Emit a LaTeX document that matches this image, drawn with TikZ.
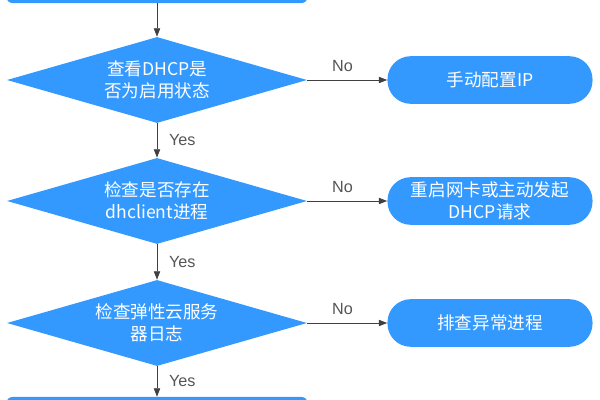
\documentclass[tikz,border=0pt]{standalone}
\usepackage{fontspec}
\setmainfont{Liberation Sans}
\newfontfamily\cjk{Noto Sans CJK SC}
\usetikzlibrary{shapes.geometric,arrows.meta}
\definecolor{hwblue}{HTML}{3399FF}
\definecolor{arrowgray}{HTML}{404040}
\definecolor{labelgray}{HTML}{555555}
\begin{document}
\begin{tikzpicture}[x=0.025cm,y=-0.025cm,
  decision/.style={diamond, aspect=3.5, fill=hwblue, text=white,
    font=\cjk\fontsize{12.5}{15.8}\selectfont, align=center,
    minimum width=7.5cm, minimum height=2.15cm, inner sep=0pt},
  terminal/.style={rectangle, rounded corners=0.58cm, fill=hwblue, text=white,
    font=\cjk\fontsize{12.5}{15.8}\selectfont, align=center,
    minimum width=5.125cm, minimum height=1.19cm, inner sep=0pt},
  process/.style={rectangle, rounded corners=0.15cm, fill=hwblue,
    minimum width=7.525cm, minimum height=0.75cm, inner sep=0pt},
  flow/.style={draw=arrowgray, line width=0.6pt, -{Triangle[length=6pt,width=4.5pt]}},
  lbl/.style={text=labelgray, font=\fontsize{11.5}{13}\selectfont}]
\useasboundingbox (0,0) rectangle (600,400);

\node[process] (top) at (157,-12) {};
\node[decision] (d1) at (157,80) {查看DHCP是\\否为启用状态};
\node[decision] (d2) at (157,201) {检查是否存在\\dhclient进程};
\node[decision] (d3) at (157,323) {检查弹性云服务\\器日志};
\node[process] (bottom) at (157,412) {};

\node[terminal] (p1) at (490,80) {手动配置IP};
\node[terminal] (p2) at (490,201) {重启网卡或主动发起\\DHCP请求};
\node[terminal] (p3) at (490,323) {排查异常进程};

\draw[flow] (top.south) -- (d1.north);
\draw[flow] (d1.south) -- node[lbl, right=5pt] {Yes} (d2.north);
\draw[flow] (d2.south) -- node[lbl, right=5pt] {Yes} (d3.north);
\draw[flow] (d3.south) -- node[lbl, right=5pt] {Yes} (bottom.north);

\draw[flow] (d1.east) -- node[lbl, above=2.5pt, pos=0.44] {No} (p1.west);
\draw[flow] (d2.east) -- node[lbl, above=2.5pt, pos=0.44] {No} (p2.west);
\draw[flow] (d3.east) -- node[lbl, above=2.5pt, pos=0.44] {No} (p3.west);
\end{tikzpicture}
\end{document}
